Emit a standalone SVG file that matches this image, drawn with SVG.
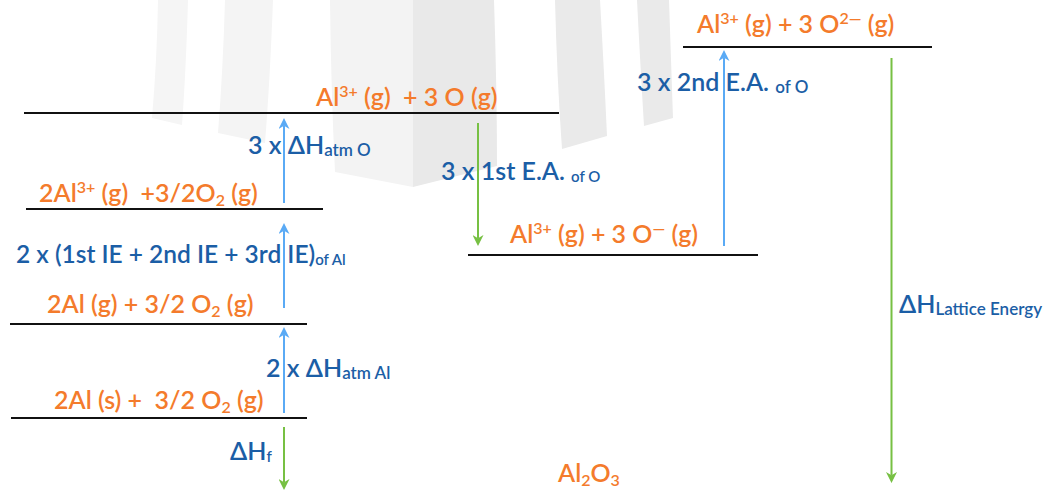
<svg xmlns="http://www.w3.org/2000/svg" width="1056" height="491" viewBox="0 0 1056 491">
  <defs>
    <style>
      .lv { stroke: #111; stroke-width: 2; fill: none; }
      .t { font-family: Lato, "Open Sans", "Liberation Sans", sans-serif; font-weight: 600; font-size: 25px; }
      .or { fill: #F47B2C; }
      .bl { fill: #1B5EA6; }
      .sp { font-size: 16px; }
      .sb { font-size: 17px; }
      .ss { font-size: 15px; }
      .ab { stroke: #5AAAF5; stroke-width: 2; fill: none; }
      .ag { stroke: #77C043; stroke-width: 2; fill: none; }
    </style>
    <marker id="headBlue" viewBox="0 0 10 10" refX="3" refY="5" markerWidth="11" markerHeight="11" markerUnits="userSpaceOnUse" orient="auto">
      <path d="M0,0 L10,5 L0,10 L3,5 Z" fill="#5AAAF5"/>
    </marker>
    <marker id="headGreen" viewBox="0 0 10 10" refX="3" refY="5" markerWidth="11" markerHeight="11" markerUnits="userSpaceOnUse" orient="auto">
      <path d="M0,0 L10,5 L0,10 L3,5 Z" fill="#77C043"/>
    </marker>
  </defs>

  <rect width="1056" height="491" fill="#fff"/>

  <!-- pale logo bands behind the cycle -->
  <g id="backdrop">
    <path d="M158,0 L188,0 Q186,70 182,125 L152,118 Q157,60 158,0 Z" fill="#f5f5f5"/>
    <path d="M225,0 L273,0 Q270,80 265,143 L218,133 Q223,70 225,0 Z" fill="#f4f4f4"/>
    <path d="M330,0 L413,0 L413,187 L335,172 Q331,90 330,0 Z" fill="#f3f3f3"/>
    <path d="M413,0 L494,0 Q497,90 497,166 L413,187 Z" fill="#e9e9e9"/>
    <path d="M555,0 L600,0 Q604,70 607,136 L562,149 Q557,80 555,0 Z" fill="#eaeaea"/>
    <path d="M637,0 L669,0 Q671,60 673,118 L644,126 Q640,60 637,0 Z" fill="#eaeaea"/>
  </g>

  <!-- energy levels -->
  <g id="level-atoms">
    <line class="lv" x1="24" y1="113" x2="559" y2="113"/>
    <text class="t or" x="316" y="106" xml:space="preserve">Al<tspan class="sp" dy="-9">3+</tspan><tspan dy="9"> (g)  + 3 O (g)</tspan></text>
  </g>
  <g id="level-al-ions">
    <line class="lv" x1="26" y1="209" x2="323" y2="209"/>
    <text class="t or" x="39" y="202" xml:space="preserve">2Al<tspan class="sp" dy="-9">3+</tspan><tspan dy="9"> (g)  +3/2O</tspan><tspan class="sp" dy="3.5">2</tspan><tspan dy="-3.5"> (g)</tspan></text>
  </g>
  <g id="level-gas">
    <line class="lv" x1="10" y1="324" x2="307" y2="324"/>
    <text class="t or" x="47" y="313" xml:space="preserve">2Al (g) + 3/2 O<tspan class="sp" dy="3.5">2</tspan><tspan dy="-3.5"> (g)</tspan></text>
  </g>
  <g id="level-elements">
    <line class="lv" x1="11" y1="418" x2="307" y2="418"/>
    <text class="t or" x="54" y="409" xml:space="preserve">2Al (s) +  3/2 O<tspan class="sp" dy="3.5">2</tspan><tspan dy="-3.5"> (g)</tspan></text>
  </g>
  <g id="level-o-minus">
    <line class="lv" x1="468" y1="255" x2="758" y2="255"/>
    <text class="t or" x="510" y="243" xml:space="preserve">Al<tspan class="sp" dy="-9">3+</tspan><tspan dy="9"> (g) + 3 O</tspan><tspan class="sp" dy="-9">—</tspan><tspan dy="9"> (g)</tspan></text>
  </g>
  <g id="level-o2-minus">
    <line class="lv" x1="683" y1="47" x2="932" y2="47"/>
    <text class="t or" x="697" y="33" xml:space="preserve">Al<tspan class="sp" dy="-9">3+</tspan><tspan dy="9"> (g) + 3 O</tspan><tspan class="sp" dy="-9">2—</tspan><tspan dy="9"> (g)</tspan></text>
  </g>
  <g id="product">
    <text class="t or" x="558" y="482" xml:space="preserve">Al<tspan class="sp" dy="3.5">2</tspan><tspan dy="-3.5">O</tspan><tspan class="sp" dy="3.5">3</tspan></text>
  </g>

  <!-- step arrows -->
  <g id="connectors">
    <line class="ab" x1="284" y1="203" x2="284" y2="125.7" marker-end="url(#headBlue)"/>
    <line class="ab" x1="284" y1="308" x2="284" y2="230.7" marker-end="url(#headBlue)"/>
    <line class="ab" x1="284" y1="413" x2="284" y2="334.7" marker-end="url(#headBlue)"/>
    <line class="ag" x1="284" y1="427" x2="284" y2="482.3" marker-end="url(#headGreen)"/>
    <line class="ag" x1="478" y1="123" x2="478" y2="238.3" marker-end="url(#headGreen)"/>
    <line class="ab" x1="724" y1="246" x2="724" y2="57.7" marker-end="url(#headBlue)"/>
    <line class="ag" x1="891.5" y1="58" x2="891.5" y2="475.3" marker-end="url(#headGreen)"/>
  </g>

  <!-- step labels -->
  <g id="label-atm-o">
    <text class="t bl" x="248" y="154" xml:space="preserve">3 x ΔH<tspan class="sb" dy="1.5">atm O</tspan></text>
  </g>
  <g id="label-ie">
    <text class="t bl" x="16" y="263" xml:space="preserve" style="font-size:24.5px">2 x (1st IE + 2nd IE + 3rd IE)<tspan class="ss" dy="1.5">of Al</tspan></text>
  </g>
  <g id="label-atm-al">
    <text class="t bl" x="266" y="377" xml:space="preserve">2 x ΔH<tspan class="sb" dy="1.5">atm Al</tspan></text>
  </g>
  <g id="label-hf">
    <text class="t bl" x="230" y="460" xml:space="preserve">ΔH<tspan class="ss" dy="1.5">f</tspan></text>
  </g>
  <g id="label-ea1">
    <text class="t bl" x="441" y="180" xml:space="preserve">3 x 1st E.A. <tspan class="ss" dy="1.5">of O</tspan></text>
  </g>
  <g id="label-ea2">
    <text class="t bl" x="637" y="91" xml:space="preserve">3 x 2nd E.A. <tspan class="sb" dy="1.5">of O</tspan></text>
  </g>
  <g id="label-lattice">
    <text class="t bl" x="899" y="313" xml:space="preserve">ΔH<tspan class="sb" dy="1.5">Lattice Energy</tspan></text>
  </g>
</svg>
